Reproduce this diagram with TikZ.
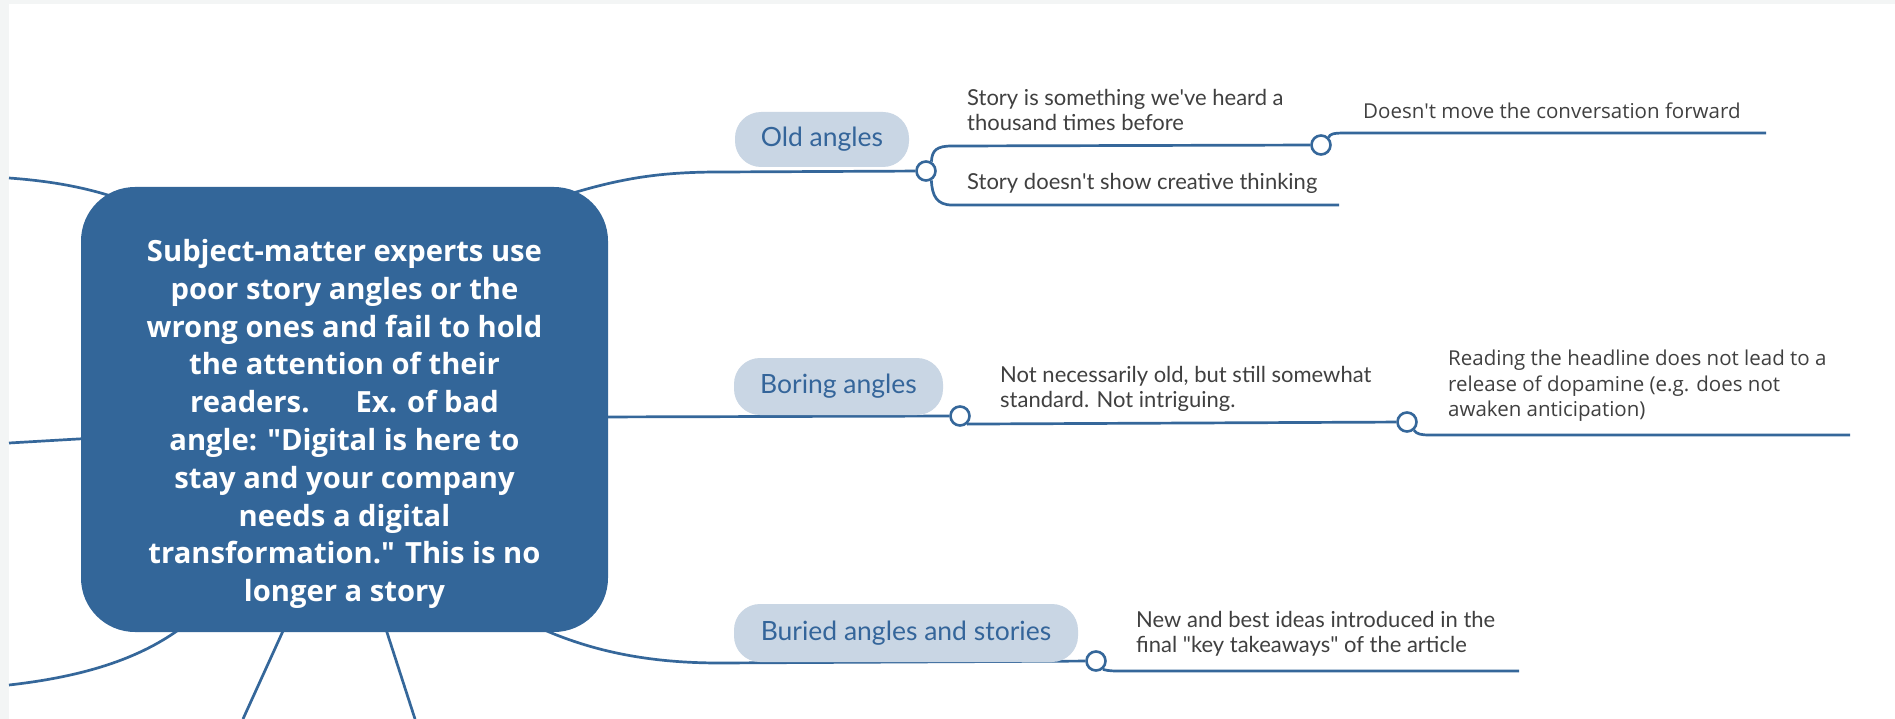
\documentclass[tikz,border=0pt]{standalone}
\usepackage{fontspec}
\setmainfont{Lato}
\newfontfamily\widefont{Open Sans}
\usetikzlibrary{backgrounds}
\definecolor{mainblue}{HTML}{336699}
\definecolor{lineblue}{HTML}{35679A}
\definecolor{pillfill}{HTML}{C9D6E4}
\definecolor{pilltext}{HTML}{34659A}
\definecolor{subtext}{HTML}{404040}
\definecolor{framegray}{HTML}{F3F5F5}
\begin{document}
\begin{tikzpicture}[x=1pt,y=-1pt,
 branch/.style={draw=lineblue,line width=2.7pt},
 circ/.style={circle,draw=lineblue,line width=2.6pt,fill=white,minimum size=19pt,inner sep=0pt},
 pill/.style={rounded corners=26pt,fill=pillfill,text=pilltext,font=\fontsize{26.5}{30}\selectfont,inner sep=0pt},
 subnode/.style={anchor=west,align=left,text=subtext,inner sep=0pt,font=\fontsize{22}{25}\selectfont},
 deepnode/.style={anchor=west,align=left,text=subtext,inner sep=0pt,font=\widefont\fontsize{20.5}{25.5}\selectfont},
]
\useasboundingbox (0,0) rectangle (1895,719);

\node[fill=mainblue, rounded corners=54pt, minimum width=527pt, minimum height=445pt, inner sep=0pt] (box) at (344.5,409.5) {};
\node[text=white, align=center, inner sep=0pt, font=\widefont\bfseries\fontsize{29.2}{37.8}\selectfont] (boxtext) at (344.5,424) {Subject-matter experts use\\poor story angles or the\\wrong ones and fail to hold\\the attention of their\\readers.\hspace{46pt}Ex. of bad\\angle: \textquotedbl Digital is here to\\stay and your company\\needs a digital\\transformation.\textquotedbl{} This is no\\longer a story};

\node[pill, minimum width=174pt, minimum height=55pt] (old) at (822,139.5) {Old angles};
\node[pill, minimum width=209pt, minimum height=57pt] (boring) at (838.5,386.5) {Boring angles};
\node[pill, minimum width=344pt, minimum height=58pt] (buried) at (906,633) {Buried angles and stories};

\node[circ] (c1) at (926,171) {};
\node[circ] (c2) at (1321,145) {};
\node[circ] (c3) at (960,416) {};
\node[circ] (c4) at (1407,422) {};
\node[circ] (c5) at (1096,661) {};

\node[subnode] (t1) at (967,109.5) {Story is something we\textquotesingle ve heard a\\thousand times before};
\node[subnode] (t2) at (967,183) {Story doesn\textquotesingle t show creative thinking};
\node[deepnode] (t3) at (1363,111) {Doesn\textquotesingle t move the conversation forward};
\node[subnode] (t4) at (1000,389) {Not necessarily old, but still somewhat\\standard. Not intriguing.};
\node[deepnode] (t5) at (1448,386) {Reading the headline does not lead to a\\release of dopamine (e.g. does not\\awaken anticipation)};
\node[subnode] (t6) at (1136,634) {New and best ideas introduced in the\\final \textquotedbl key takeaways\textquotedbl{} of the article};

\coordinate (s1) at (560,197);
\coordinate (s3) at (590,417);
\coordinate (s5) at (540,628);
\coordinate (e2) at (1339,205);
\coordinate (e3) at (1766,133);
\coordinate (e5) at (1850,435);
\coordinate (e6) at (1519,671);
\coordinate (l1a) at (9,178);  \coordinate (l1b) at (120,199);
\coordinate (l2a) at (9,443);  \coordinate (l2b) at (95,438);
\coordinate (l3a) at (9,685);  \coordinate (l3b) at (185,625);
\coordinate (l4a) at (243,719); \coordinate (l4b) at (288,620);
\coordinate (l5a) at (415,719); \coordinate (l5b) at (383,620);

\begin{pgfonlayer}{background}
\fill[white] (0,0) rectangle (1895,719);
\fill[framegray] (0,0) rectangle (1895,4);
\fill[framegray] (0,0) rectangle (9,719);
\draw[branch] (s1) .. controls (620,178) and (660,172) .. (720,172) -- (c1);
\draw[branch] (c1.60) .. controls (932,150) and (937,146) .. (952,146) -- (c2);
\draw[branch] (c1.-60) .. controls (932,196) and (937,205) .. (952,205) -- (e2);
\draw[branch] (c2.45) .. controls (1330,134) and (1333,133) .. (1345,133) -- (e3);
\draw[branch] (s3) -- (c3);
\draw[branch] (c3.-50) .. controls (967,424) and (970,424) .. (978,424) -- (c4);
\draw[branch] (c4.-50) .. controls (1417,434) and (1420,435) .. (1430,435) -- (e5);
\draw[branch] (s5) .. controls (600,655) and (660,663) .. (720,663) -- (c5);
\draw[branch] (c5.-50) .. controls (1105,670) and (1108,671) .. (1118,671) -- (e6);
\draw[branch] (l1a) .. controls (50,181) and (85,187) .. (l1b);
\draw[branch] (l2a) -- (l2b);
\draw[branch] (l3a) .. controls (80,677) and (140,660) .. (l3b);
\draw[branch] (l4a) -- (l4b);
\draw[branch] (l5a) -- (l5b);
\end{pgfonlayer}
\end{tikzpicture}
\end{document}
